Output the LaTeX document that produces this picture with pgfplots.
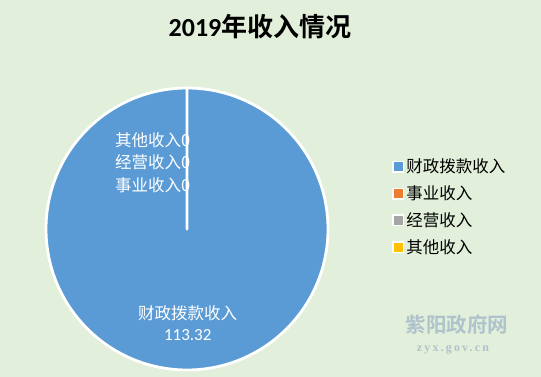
\documentclass[border=0pt]{standalone}
\usepackage{fontspec}
\setmainfont{Carlito}
\newfontfamily\cjk{Noto Sans CJK SC}[BoldFont={Noto Sans CJK SC Bold}]
\newfontfamily\wmserif{Liberation Serif}[LetterSpace=18]
\usepackage{pgfplots}
\usepackage{pgfplotstable}
\pgfplotsset{compat=1.18}
\definecolor{bg}{HTML}{E2EFDA}
\definecolor{pieblue}{HTML}{5B9BD5}
\definecolor{pieorange}{HTML}{ED7D31}
\definecolor{piegray}{HTML}{A5A5A5}
\definecolor{pieyellow}{HTML}{FFC000}
\definecolor{wm}{HTML}{AFC3CC}

\pgfplotstableread{
label value
财政拨款收入 113.32
事业收入 0
经营收入 0
其他收入 0
}\incomedata

\begin{document}
\begin{tikzpicture}
\useasboundingbox (0,0) rectangle (541bp,377bp);
\fill[bg] (0,0) rectangle (541bp,377bp);
\gdef\total{0}
\pgfplotstableforeachcolumnelement{value}\of\incomedata\as\v{%
  \pgfmathparse{\total+\v}\xdef\total{\pgfmathresult}}
\gdef\startang{90}
\begin{axis}[
  at={(46bp,7bp)}, anchor=south west,
  width=282bp, height=282bp, scale only axis,
  xmin=-1, xmax=1, ymin=-1, ymax=1,
  hide axis, clip=false,
  legend image code/.code={\draw[#1, line width=1.3bp] (0bp,-5.3bp) rectangle (10.6bp,5.3bp);},
  legend style={at={(1.228,0.578)}, anchor=west, draw=none, fill=none,
    font=\fontsize{16.5bp}{18bp}\selectfont, row sep=7.5bp, inner sep=0pt,
    nodes={inner sep=2pt},
    every odd column/.style={column sep=3bp}},
  legend cell align=left,
]
\pgfplotsforeachungrouped \i in {0,...,3}{%
  \pgfplotstablegetelem{\i}{value}\of\incomedata
  \let\v\pgfplotsretval
  \pgfmathsetmacro\frac{\v/\total}%
  \pgfmathsetmacro\endang{\startang-360*\frac}%
  \ifcase\i \def\col{pieblue}\or \def\col{pieorange}\or \def\col{piegray}\or \def\col{pieyellow}\fi
  \edef\cmd{\noexpand\fill[fill=\col, draw=white, line width=2.8bp, line join=round]
    (axis cs:0,0) -- (axis cs:{cos(\startang)},{sin(\startang)})
    arc[start angle=\startang, end angle=\endang, radius=141bp] -- cycle;}%
  \cmd
  \xdef\startang{\endang}%
}
\addlegendimage{fill=pieblue, draw=white}
\addlegendentry{\cjk 财政拨款收入}
\addlegendimage{fill=pieorange, draw=white}
\addlegendentry{\cjk 事业收入}
\addlegendimage{fill=piegray, draw=white}
\addlegendentry{\cjk 经营收入}
\addlegendimage{fill=pieyellow, draw=white}
\addlegendentry{\cjk 其他收入}
\begin{scope}[every node/.style={text=white, font=\cjk\fontsize{16.5bp}{18bp}\selectfont, inner sep=0pt}]
\node[anchor=east] at (axis cs:0.025,0.631) {其他收入0};
\node[anchor=east] at (axis cs:0.025,0.475) {经营收入0};
\node[anchor=east] at (axis cs:0.025,0.312) {事业收入0};
\end{scope}
\node[text=white, font=\cjk\fontsize{16.5bp}{18bp}\selectfont, inner sep=0pt] at (axis cs:0.005,-0.596) {财政拨款收入};
\node[text=white, font=\fontsize{17bp}{18bp}\selectfont, inner sep=0pt] at (axis cs:0.005,-0.752) {113.32};
\end{axis}
\node[font=\fontsize{26bp}{28bp}\selectfont\bfseries] at (260bp,350bp) {2019{\cjk 年收入情况}};
\node[text=wm, font=\cjk\bfseries\fontsize{20.5bp}{22bp}\selectfont] at (457bp,52bp) {紫阳政府网};
\node[text=wm, font=\wmserif\bfseries\fontsize{12bp}{14bp}\selectfont] at (453bp,27bp) {zyx.gov.cn};
\end{tikzpicture}
\end{document}
